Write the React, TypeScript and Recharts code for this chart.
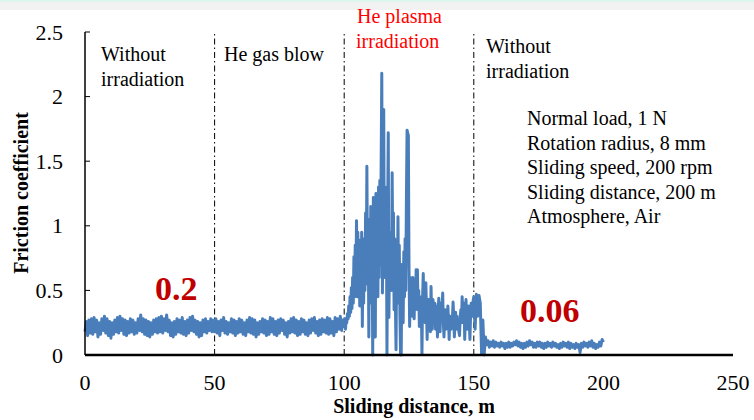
import { LineChart, Line, XAxis, YAxis, ReferenceLine } from "recharts";

// friction coefficient; each phase has its own start and sampling step (m)

// 0 - 49.5 m, without irradiation (every 0.5 m)
const withoutIrradiation1 = [
  0.18, 0.26, 0.15, 0.27, 0.17, 0.28, 0.16, 0.29, 0.18, 0.27,
  0.14, 0.25, 0.16, 0.28, 0.19, 0.30, 0.17, 0.28, 0.15, 0.26,
  0.13, 0.25, 0.16, 0.27, 0.18, 0.29, 0.17, 0.30, 0.19, 0.28,
  0.16, 0.27, 0.15, 0.26, 0.17, 0.28, 0.18, 0.27, 0.16, 0.25,
  0.17, 0.28, 0.19, 0.31, 0.18, 0.28, 0.16, 0.27, 0.15, 0.26,
  0.14, 0.25, 0.16, 0.27, 0.18, 0.28, 0.17, 0.29, 0.18, 0.30,
  0.17, 0.28, 0.19, 0.31, 0.18, 0.27, 0.15, 0.25, 0.14, 0.26,
  0.16, 0.28, 0.18, 0.27, 0.17, 0.29, 0.16, 0.26, 0.15, 0.27,
  0.17, 0.29, 0.19, 0.30, 0.18, 0.27, 0.16, 0.26, 0.14, 0.25,
  0.15, 0.27, 0.18, 0.28, 0.17, 0.26, 0.19, 0.28, 0.18, 0.27,
];

// 50 - 99.5 m, He gas blow (every 0.5 m)
const heGasBlow = [
  0.18, 0.28, 0.17, 0.26, 0.15, 0.27, 0.19, 0.29, 0.17, 0.26,
  0.16, 0.25, 0.18, 0.28, 0.17, 0.27, 0.15, 0.26, 0.17, 0.28,
  0.18, 0.27, 0.16, 0.25, 0.15, 0.27, 0.18, 0.29, 0.17, 0.28,
  0.16, 0.27, 0.14, 0.25, 0.16, 0.26, 0.18, 0.28, 0.17, 0.27,
  0.15, 0.26, 0.16, 0.29, 0.18, 0.28, 0.16, 0.26, 0.15, 0.27,
  0.17, 0.28, 0.19, 0.27, 0.16, 0.25, 0.14, 0.26, 0.17, 0.28,
  0.18, 0.29, 0.17, 0.27, 0.15, 0.26, 0.16, 0.28, 0.18, 0.27,
  0.16, 0.25, 0.15, 0.27, 0.17, 0.28, 0.19, 0.29, 0.17, 0.26,
  0.15, 0.27, 0.16, 0.28, 0.18, 0.27, 0.17, 0.29, 0.16, 0.28,
  0.17, 0.26, 0.15, 0.29, 0.18, 0.28, 0.20, 0.30, 0.19, 0.27,
];

// 100 - 149.75 m, He plasma irradiation (every 0.25 m)
const hePlasma = [
  0.22, 0.28, 0.20, 0.27, 0.25, 0.32, 0.28, 0.38,
  0.30, 0.45, 0.33, 0.52, 0.36, 0.60, 0.40, 0.76,
  0.45, 0.85, 0.50, 1.04, 0.45, 0.95, 0.52, 0.89,
  0.38, 0.80, 0.45, 0.95, 0.22, 0.85, 0.40, 0.90,
  0.50, 1.10, 0.55, 1.46, 0.60, 1.05, 0.14, 0.95,
  0.40, 1.15, 0.45, 1.00, 0.00, 1.22, 0.50, 1.10,
  0.14, 1.25, 0.55, 1.15, 0.45, 1.30, 0.60, 1.35,
  0.70, 1.45, 2.18, 0.48, 1.40, 1.90, 0.60, 1.30,
  0.70, 1.20, 0.00, 1.05, 1.72, 0.29, 0.90, 0.60,
  0.95, 0.50, 1.41, 0.73, 1.10, 0.35, 0.90, 0.40,
  0.04, 0.80, 0.45, 1.07, 0.40, 0.85, 0.30, 0.00,
  0.00, 0.70, 0.53, 0.25, 0.80, 0.45, 0.90, 0.50,
  1.20, 1.74, 1.72, 1.70, 0.68, 0.22, 0.60, 0.35,
  0.55, 0.30, 0.60, 0.32, 0.28, 0.58, 0.35, 0.66,
  0.40, 0.66, 0.35, 0.50, 0.22, 0.45, 0.30, 0.40,
  0.01, 0.45, 0.63, 0.30, 0.50, 0.25, 0.56, 0.35,
  0.12, 0.40, 0.43, 0.22, 0.35, 0.18, 0.53, 0.30,
  0.20, 0.43, 0.30, 0.25, 0.40, 0.20, 0.38, 0.28,
  0.14, 0.35, 0.44, 0.25, 0.18, 0.40, 0.30, 0.35,
  0.48, 0.25, 0.14, 0.30, 0.35, 0.20, 0.30, 0.22,
  0.38, 0.25, 0.12, 0.30, 0.25, 0.20, 0.30, 0.28,
  0.41, 0.30, 0.14, 0.25, 0.33, 0.20, 0.30, 0.22,
  0.27, 0.18, 0.15, 0.30, 0.35, 0.25, 0.45, 0.30,
  0.25, 0.40, 0.12, 0.30, 0.43, 0.25, 0.20, 0.35,
  0.38, 0.28, 0.12, 0.30, 0.40, 0.35, 0.30, 0.42,
];

// 150 - 200 m, without irradiation (every 0.5 m)
const withoutIrradiation2 = [
  0.45, 0.20, 0.47, 0.30, 0.46, 0.40, 0.01, 0.27, 0.00, 0.14,
  0.08, 0.11, 0.06, 0.10, 0.07, 0.11, 0.06, 0.10, 0.07, 0.09,
  0.06, 0.10, 0.07, 0.09, 0.05, 0.09, 0.06, 0.10, 0.06, 0.09,
  0.07, 0.10, 0.08, 0.11, 0.07, 0.10, 0.06, 0.09, 0.05, 0.09,
  0.06, 0.10, 0.07, 0.11, 0.08, 0.10, 0.06, 0.09, 0.06, 0.10,
  0.07, 0.10, 0.06, 0.09, 0.05, 0.09, 0.06, 0.10, 0.07, 0.09,
  0.06, 0.10, 0.07, 0.09, 0.06, 0.08, 0.05, 0.09, 0.06, 0.10,
  0.07, 0.09, 0.06, 0.10, 0.05, 0.09, 0.06, 0.08, 0.05, 0.09,
  0.06, 0.08, 0.02, 0.09, 0.06, 0.10, 0.07, 0.09, 0.06, 0.10,
  0.07, 0.11, 0.06, 0.09, 0.05, 0.08, 0.06, 0.10, 0.07, 0.12,
  0.10,
];

const phaseStarts = [0, 50, 100, 150];
const phaseSteps = [0.5, 0.5, 0.25, 0.5];
const phaseValues = [withoutIrradiation1, heGasBlow, hePlasma, withoutIrradiation2];

const xTicks = [0, 50, 100, 150, 200, 250];
const yTicks = [0, 0.5, 1, 1.5, 2, 2.5];
const phaseBoundaries = [50, 100, 150];
const testConditions = [
  "Normal load, 1 N",
  "Rotation radius, 8 mm",
  "Sliding speed, 200 rpm",
  "Sliding distance, 200 m",
  "Atmosphere, Air",
];

const data = phaseValues.flatMap((values, p) =>
  values.map((f, i) => ({ distance: phaseStarts[p] + i * phaseSteps[p], friction: f }))
);

const FONT = "Liberation Serif";

function YTick({ x, y, payload }: any) {
  return (
    <g>
      <line x1={x} x2={x + 5} y1={y} y2={y} stroke="#000" strokeWidth={1} />
      <text x={x - 22} y={y + 7.5} textAnchor="end" fontSize={22} fontFamily={FONT} fill="#000">
        {payload.value}
      </text>
    </g>
  );
}

function XTick({ x, y, payload }: any) {
  return (
    <text x={x} y={y + 35} textAnchor="middle" fontSize={22} fontFamily={FONT} fill="#000">
      {payload.value}
    </text>
  );
}

export default function App() {
  return (
    <div style={{ position: "fixed", left: 0, top: 0, width: 754, height: 420, background: "#fff", overflow: "hidden" }}>
      <div style={{ position: "absolute", left: 0, top: 0, width: 754, height: 10, background: "#f2f2f2", borderTop: "2px solid #dcf6ee", boxSizing: "border-box" }} />
      <LineChart width={754} height={420} data={data} margin={{ top: 32, right: 21, bottom: 0, left: 0 }}>
        <XAxis
          dataKey="distance"
          type="number"
          domain={[0, 250]}
          ticks={xTicks}
          height={65}
          tickSize={0}
          tickMargin={0}
          tick={<XTick />}
          axisLine={{ stroke: "#000", strokeWidth: 2.5 }}
        />
        <XAxis xAxisId="top" orientation="top" type="number" domain={[0, 250]} height={0} tick={false} tickLine={false} axisLine={{ stroke: "#000", strokeWidth: 1 }} />
        <YAxis
          type="number"
          domain={[0, 2.5]}
          ticks={yTicks}
          width={85}
          tickSize={0}
          tickMargin={0}
          tick={<YTick />}
          axisLine={{ stroke: "#000", strokeWidth: 1.5 }}
        />
        <YAxis yAxisId="right" orientation="right" type="number" domain={[0, 2.5]} width={0} tick={false} tickLine={false} axisLine={{ stroke: "#000", strokeWidth: 1 }} />
        {phaseBoundaries.map((b) => (
          <ReferenceLine key={b} x={b} stroke="#000" strokeWidth={1} strokeDasharray="6 3 1.5 3" />
        ))}
        <Line
          type="linear"
          dataKey="friction"
          stroke="#4a7ebb"
          strokeWidth={3}
          strokeLinejoin="round"
          dot={false}
          isAnimationActive={false}
        />
      </LineChart>
      <svg width={754} height={420} style={{ position: "absolute", left: 0, top: 0, pointerEvents: "none" }} fontFamily={FONT}>
        <text transform="translate(28,193) rotate(-90)" textAnchor="middle" fontSize={20} fontWeight="bold">
          Friction coefficient
        </text>
        <text x={414} y={413} textAnchor="middle" fontSize={20} fontWeight="bold">
          Sliding distance, m
        </text>
        <text x={101} y={61} fontSize={20}>Without</text>
        <text x={101} y={86} fontSize={20}>irradiation</text>
        <text x={224} y={61} fontSize={20}>He gas blow</text>
        <text x={357} y={23} fontSize={20} fill="#ff0000">He plasma</text>
        <text x={356} y={48} fontSize={20} fill="#ff0000">irradiation</text>
        <text x={486} y={53} fontSize={20}>Without</text>
        <text x={486} y={78} fontSize={20}>irradiation</text>
        {testConditions.map((t, i) => (
          <text key={t} x={527} y={125 + i * 24.5} fontSize={20}>
            {t}
          </text>
        ))}
        <text x={155} y={300} fontSize={34} fontWeight="bold" fill="#c00000">0.2</text>
        <text x={520} y={322} fontSize={34} fontWeight="bold" fill="#c00000">0.06</text>
      </svg>
    </div>
  );
}
